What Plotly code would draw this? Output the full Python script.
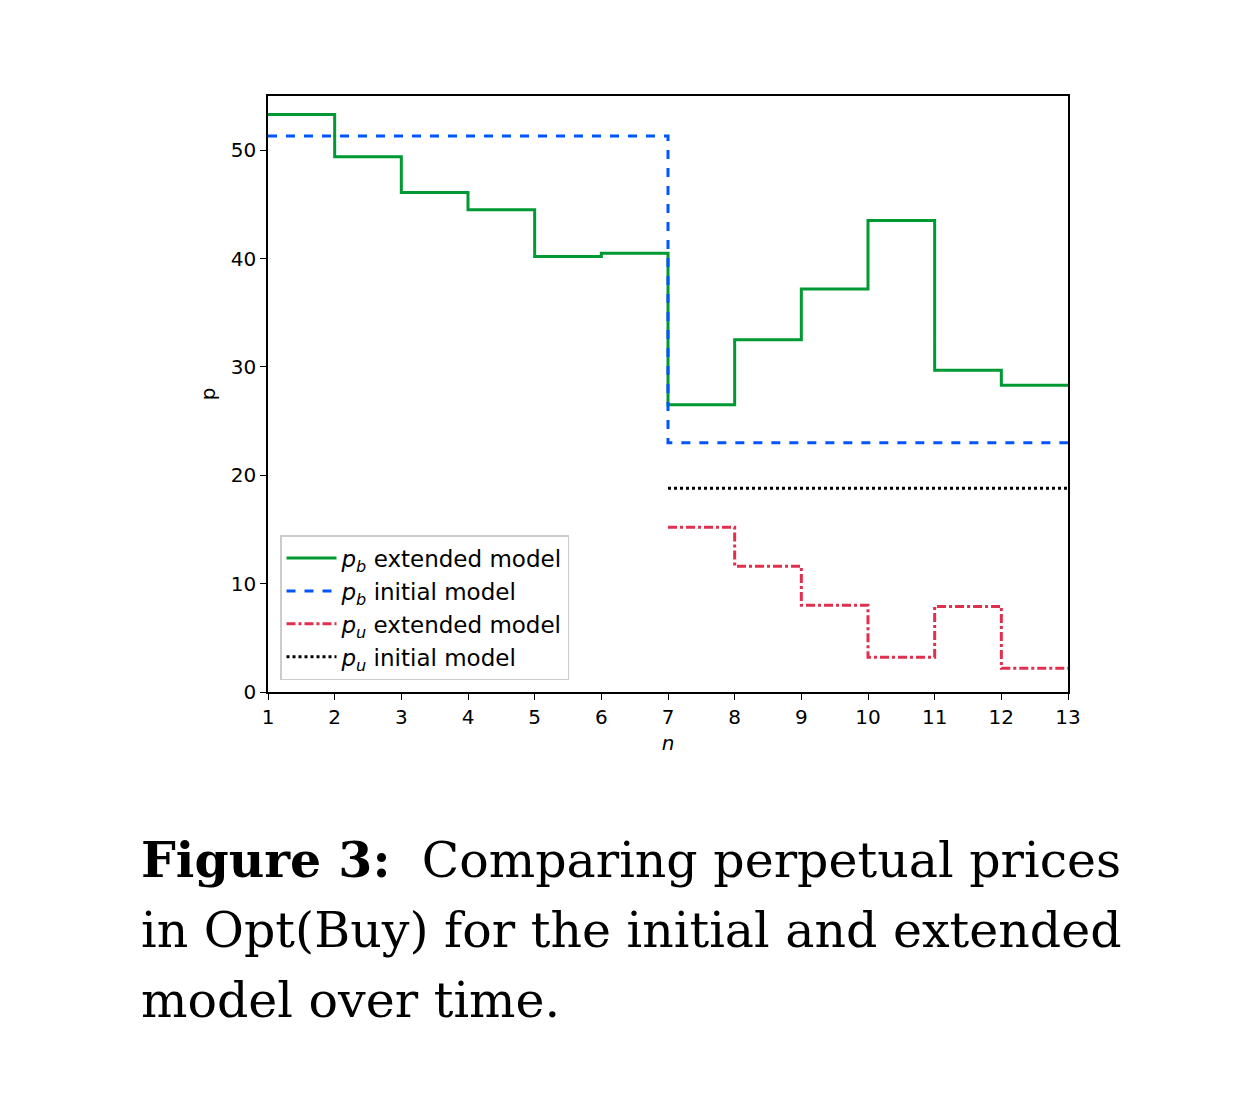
import plotly.graph_objects as go

n = list(range(1, 14))
pb_ext = [53.3, 49.4, 46.1, 44.5, 40.2, 40.5, 26.5, 32.5, 37.2, 43.5, 29.7, 28.3, 28.3]
n_init_b = [1, 7, 13]
pb_init = [51.3, 23.0, 23.0]
n_u = list(range(7, 14))
pu_ext = [15.2, 11.6, 8.0, 3.2, 7.9, 2.2, 2.2]
pu_init = [18.8] * 7

fig = go.Figure()
fig.add_trace(go.Scatter(x=n, y=pb_ext, mode='lines', line_shape='hv',
                         line=dict(color='#009933', width=3),
                         name='<i>p<sub>b</sub></i> extended model'))
fig.add_trace(go.Scatter(x=n_init_b, y=pb_init, mode='lines', line_shape='hv',
                         line=dict(color='#0055ff', width=3, dash='dash'),
                         name='<i>p<sub>b</sub></i> initial model'))
fig.add_trace(go.Scatter(x=n_u, y=pu_ext, mode='lines', line_shape='hv',
                         line=dict(color='#e0304e', width=3, dash='dashdot'),
                         name='<i>p<sub>u</sub></i> extended model'))
fig.add_trace(go.Scatter(x=n_u, y=pu_init, mode='lines', line_shape='hv',
                         line=dict(color='black', width=3, dash='dot'),
                         name='<i>p<sub>u</sub></i> initial model'))

axis = dict(showgrid=False, zeroline=False, showline=True, mirror=True,
            linecolor='black', linewidth=1.5, ticks='outside', ticklen=6,
            tickcolor='black', tickfont=dict(size=20, color='black'))
fig.update_xaxes(axis, range=[1, 13], tickvals=n,
                 title=dict(text='<i>n</i>', font=dict(size=20), standoff=8))
fig.update_yaxes(axis, range=[0, 55], tickvals=[0, 10, 20, 30, 40, 50],
                 title=dict(text='p', font=dict(size=20), standoff=10))

captions = ['<b>Figure 3:</b>  Comparing perpetual prices',
            'in Opt(Buy) for the initial and extended',
            'model over time.']
for i, c in enumerate(captions):
    fig.add_annotation(text=c, xref='paper', yref='paper', x=-0.161, y=-0.282 - i * 0.118,
                       xanchor='left', yanchor='middle', showarrow=False,
                       font=dict(family='DejaVu Serif', size=49, color='black'))

fig.update_layout(width=1250, height=1112, plot_bgcolor='white', paper_bgcolor='white',
                  margin=dict(l=260, r=190, t=88, b=428),
                  font=dict(family='DejaVu Sans', color='black'),
                  legend=dict(x=0.015, y=0.02, xanchor='left', yanchor='bottom',
                              bordercolor='#cccccc', borderwidth=1.5, itemwidth=50,
                              font=dict(size=23), bgcolor='white'))
fig.write_html("out.html")
